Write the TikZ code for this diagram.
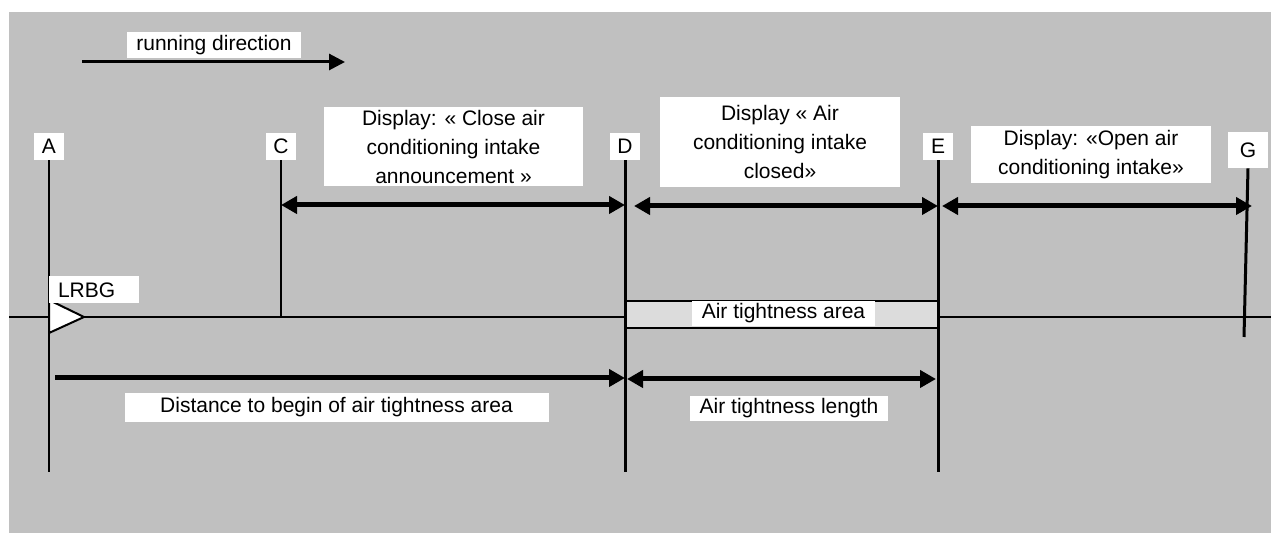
\documentclass[tikz,border=0pt]{standalone}
\usepackage{fontspec}
\setmainfont{Liberation Sans}
\usetikzlibrary{arrows.meta,calc}
\definecolor{bggray}{HTML}{C0C0C0}
\definecolor{areagray}{HTML}{DCDCDC}

\begin{document}
\begin{tikzpicture}[x=0.5pt, y=-0.5pt,
	font=\fontsize{10.5}{14.5}\selectfont,
	label/.style={fill=white, inner sep=0pt, align=center},
	letter/.style={label, minimum width=15pt, minimum height=13.5pt},
	thinline/.style={line width=1pt},
	thickline/.style={line width=1.5pt},
	span/.style={line width=2.5pt, >={Triangle[length=8pt,width=8.5pt]}},
	runarrow/.style={line width=1.5pt, -{Triangle[length=8pt,width=8pt]}}]
	\useasboundingbox (0,0) rectangle (1271,533);
	% Hintergrund
	\fill[bggray] (9,12) rectangle (1271,533);
	% Gleis
	\coordinate (track start) at (9,317);
	\coordinate (track end) at (1271,317);
	\draw[thinline] (track start) -- (track end);
	% Fahrtrichtung
	\node[label, minimum width=87pt, minimum height=13pt] (run) at (214,45)
	{running direction};
	\coordinate (run start) at (82,62);
	\coordinate (run end) at (345,62);
	\draw[runarrow] (run start) -- (run end);
	% Luftdichter Bereich
	\node[draw, thinline, fill=areagray, inner sep=0pt, minimum width=156.5pt,
	minimum height=13.5pt] (area) at (781.5,314.5) {};
	\node[label, minimum width=91.5pt, minimum height=12.5pt] (area text) at
	(783.5,313.5) {Air tightness area};
	% Punkte
	\node[letter] (A) at (49,146.5) {A};
	\node[letter] (C) at (281,146.5) {C};
	\node[letter] (D) at (625,146.5) {D};
	\node[letter] (E) at (938,146.5) {E};
	\node[label, minimum width=20pt, minimum height=18pt] (G) at (1248,150) {G};
	\coordinate (A end) at (49,472);
	\coordinate (D end) at (625,472);
	\coordinate (E end) at (938,472);
	\coordinate (G end) at (1244,337);
	\draw[thinline] (A.south) -- (A end);
	\draw[thinline] (C.south) -- (C |- track start);
	\draw[thickline] (D.south) -- (D end);
	\draw[thickline] (E.south) -- (E end);
	\draw[thickline] (G.south) -- (G end);
	% LRBG
	\draw[thinline, fill=white] (49,300) -- (84,317) -- (49,333) -- cycle;
	\node[label, align=left, text width=36pt, inner xsep=4.5pt,
	minimum height=13.5pt] (lrbg) at (94,290) {LRBG};
	% Anzeigen
	\node[label, minimum width=129.5pt, minimum height=39.5pt] (close ann) at
	(453.5,147) {Display: « Close air\\conditioning intake\\announcement »};
	\node[label, minimum width=120pt, minimum height=45pt] (closed) at
	(780,142) {Display « Air\\conditioning intake\\closed»};
	\node[label, minimum width=120pt, minimum height=28.5pt] (open) at
	(1091,155) {Display: «Open air\\conditioning intake»};
	\draw[span, <->] (C |- 0,205) -- (D |- 0,205);
	\draw[span, <->] ($(D |- 0,206)+(9,0)$) -- (E |- 0,206);
	\draw[span, <->] ($(E |- 0,206)+(4,0)$) -- ($(G |- 0,206)+(4,0)$);
	% Laengen
	\coordinate (dist start) at (55,378);
	\draw[span, ->] (dist start) -- (D |- dist start);
	\draw[span, <->] ($(D |- 0,379)+(2,0)$) -- ($(E |- 0,379)+(-2,0)$);
	\node[label, minimum width=212pt, minimum height=14.5pt] (dist) at
	(336.5,407.5) {Distance to begin of air tightness area};
	\node[label, minimum width=99pt, minimum height=12.5pt] (length) at
	(789,408.5) {Air tightness length};
\end{tikzpicture}
\end{document}
